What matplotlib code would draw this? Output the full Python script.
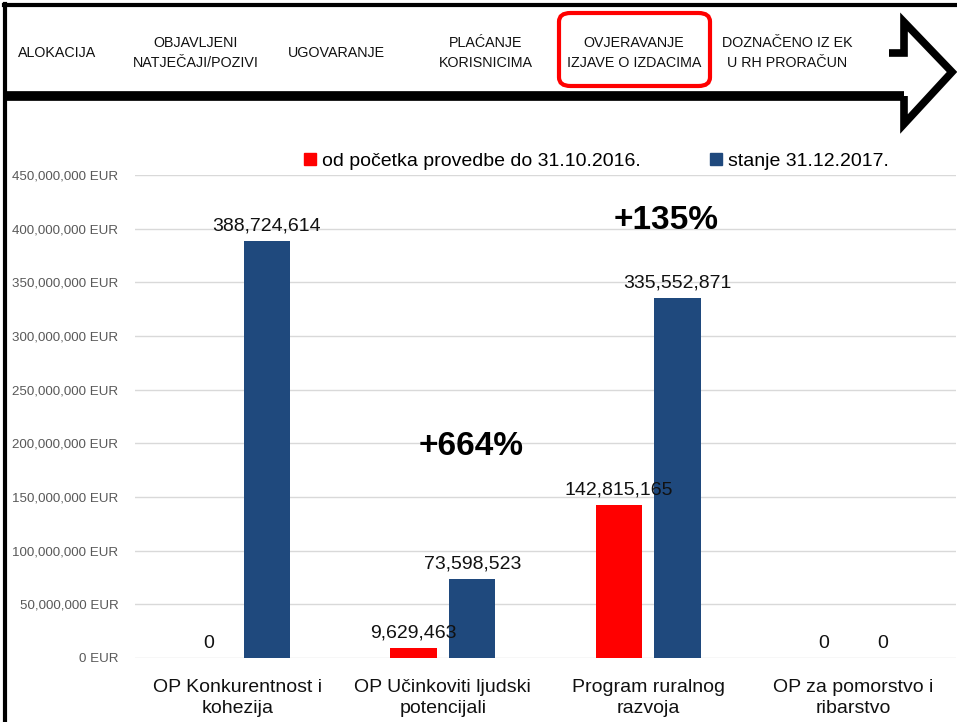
import numpy as np
import matplotlib.pyplot as plt
from matplotlib.patches import FancyBboxPatch, Patch
from matplotlib.lines import Line2D
from matplotlib.ticker import FuncFormatter

# Podaci
kategorije = ['OP Konkurentnost i\nkohezija', 'OP Učinkoviti ljudski\npotencijali',
              'Program ruralnog\nrazvoja', 'OP za pomorstvo i\nribarstvo']
vrijednosti_2016 = [0, 9629463, 142815165, 0]
vrijednosti_2017 = [388724614, 73598523, 335552871, 0]
legenda = ['od početka provedbe do 31.10.2016.', 'stanje 31.12.2017.']
koraci = ['ALOKACIJA', 'OBJAVLJENI\nNATJEČAJI/POZIVI', 'UGOVARANJE',
          'PLAĆANJE\nKORISNICIMA', 'OVJERAVANJE\nIZJAVE O IZDACIMA',
          'DOZNAČENO IZ EK\nU RH PRORAČUN']
povecanja = ['+664%', '+135%']

W, H = 957, 722
CRVENA = '#ff0000'
PLAVA = '#1f497d'
SANS = ['Liberation Sans', 'DejaVu Sans']


def fx(p):
    return p / W


def fy(p):
    return 1 - p / H


fig = plt.figure(figsize=(W / 100, H / 100), dpi=100)

# Zaglavlje s koracima
koraci_x = [57, 196, 336, 486, 634, 787]
for tekst, x in zip(koraci, koraci_x):
    fig.text(fx(x), fy(53), tekst, ha='center', va='center', fontsize=10.3,
             family=SANS, linespacing=1.55, color='#111111')

okvir = FancyBboxPatch((fx(559), fy(86)), fx(710) - fx(559), fy(13) - fy(86),
                       boxstyle='round,pad=0,rounding_size=0.012',
                       transform=fig.transFigure, fill=False,
                       edgecolor=CRVENA, linewidth=3)
fig.patches.append(okvir)

# Strelica
fig.add_artist(Line2D([fx(5), fx(904)], [fy(96), fy(96)],
                      color='black', linewidth=7, solid_capstyle='butt'))
fig.add_artist(Line2D([fx(904), fx(904), fx(952), fx(904), fx(904), fx(889)],
                      [fy(96), fy(124), fy(72), fy(22), fy(53), fy(53)],
                      color='black', linewidth=5.5, solid_joinstyle='miter',
                      solid_capstyle='butt'))

# Okvir slike
fig.add_artist(Line2D([fx(5), fx(5)], [0, fy(4)], color='black', linewidth=3))
fig.add_artist(Line2D([fx(4), 1], [fy(5), fy(5)], color='black', linewidth=3))

# Grafikon
ax = fig.add_axes([fx(135), fy(658), fx(956) - fx(135), (658 - 175) / H])
x = np.arange(len(kategorije))
sirina = 0.225
pomak = 0.143
b1 = ax.bar(x - pomak, vrijednosti_2016, sirina, color=CRVENA, label=legenda[0], zorder=3)
b2 = ax.bar(x + pomak, vrijednosti_2017, sirina, color=PLAVA, label=legenda[1], zorder=3)

for bars in (b1, b2):
    for b in bars:
        v = b.get_height()
        ax.text(b.get_x() + b.get_width() / 2, v + 6e6, f'{v:,.0f}', ha='center',
                va='bottom', fontsize=14, family=SANS, color='#111111')

ax.text(1.14, 183e6, povecanja[0], ha='center', va='bottom', fontsize=24,
        fontweight='bold', family=SANS)
ax.text(2.09, 393e6, povecanja[1], ha='center', va='bottom', fontsize=24,
        fontweight='bold', family=SANS)

ax.set_xlim(-0.5, 3.5)
ax.set_ylim(0, 450e6)
ax.set_yticks(np.arange(0, 450e6 + 1, 50e6))
ax.yaxis.set_major_formatter(FuncFormatter(lambda v, p: f'{v:,.0f} EUR'))
ax.set_yticklabels(ax.get_yticklabels(), family=SANS)
ax.set_xticks(x)
ax.set_xticklabels(kategorije, fontsize=14, family=SANS, color='#111111',
                   linespacing=1.3)
ax.tick_params(axis='y', labelsize=9.6, labelcolor='#595959', length=0, pad=12)
ax.tick_params(axis='x', length=0, pad=15)
for s in ax.spines.values():
    s.set_visible(False)
ax.grid(axis='y', color='#d9d9d9', linewidth=1, zorder=0)

ax.legend(handles=[Patch(color=CRVENA), Patch(color=PLAVA)], labels=legenda,
          loc='center', bbox_to_anchor=(0.562, 1.028), ncol=2, frameon=False,
          handlelength=0.6, handleheight=0.6, handletextpad=0.3, columnspacing=3.6,
          prop={'family': SANS, 'size': 14})

fig.savefig('out.png', dpi=100)
